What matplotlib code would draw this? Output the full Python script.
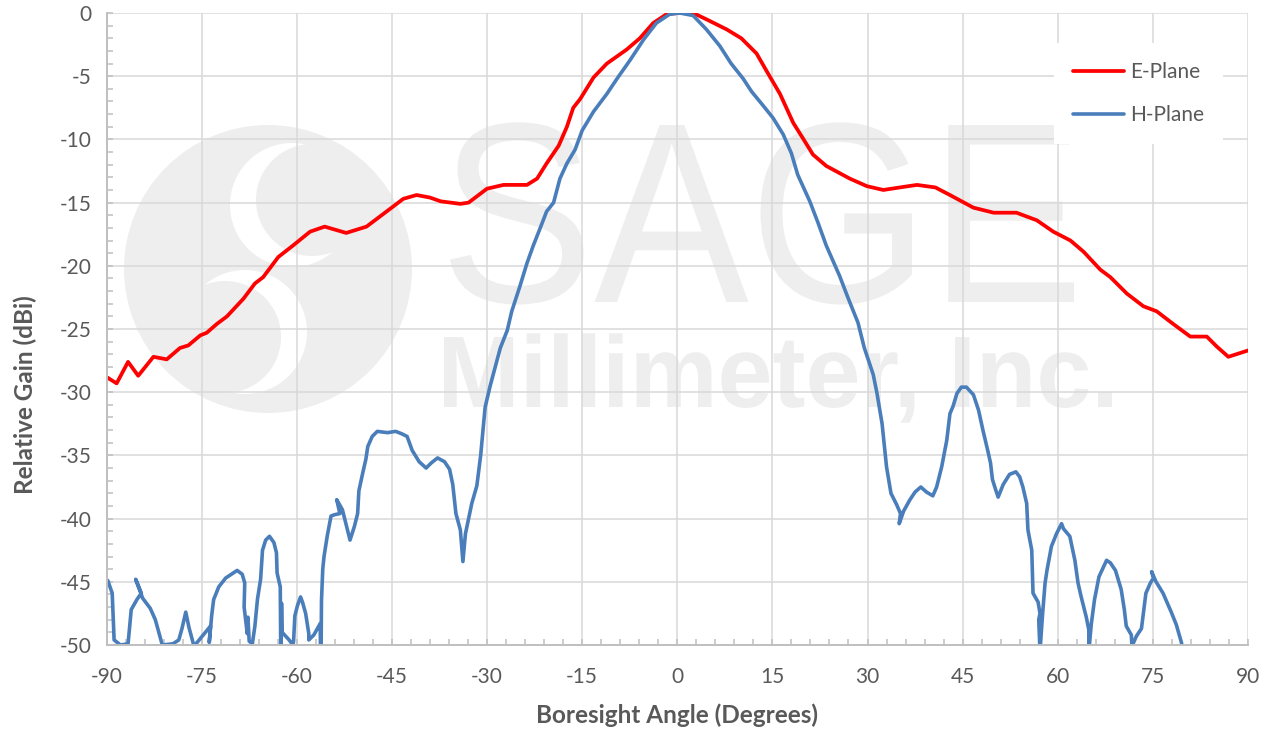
import matplotlib
matplotlib.use("Agg")
import matplotlib.pyplot as plt
from matplotlib.patches import PathPatch, Circle
from matplotlib.path import Path
from matplotlib.textpath import TextPath
from matplotlib.font_manager import FontProperties
from matplotlib.transforms import Affine2D
from matplotlib.ticker import MultipleLocator

# E-plane cut (degrees, dBi relative)
e_angle = [-90.0, -88.4, -86.6, -85.0, -82.6, -80.5, -78.4, -77.1, -75.2, -74.2,
           -72.6, -71.0, -68.4, -66.6, -65.3, -62.9, -60.6, -57.9, -55.6, -52.2,
           -49.0, -45.3, -43.2, -41.1, -39.0, -37.3, -34.2, -32.9, -30.0, -27.4,
           -23.7, -22.1, -20.6, -18.7, -17.4, -16.4, -15.3, -13.2, -11.1, -8.0,
           -5.9, -3.8, -1.7, 0.0, 2.5, 4.6, 7.8, 10.1, 12.5, 14.1,
           16.2, 18.3, 19.8, 21.4, 23.5, 27.2, 29.9, 32.5, 35.1, 37.8,
           40.7, 43.0, 46.7, 49.9, 53.5, 56.7, 59.3, 62.0, 64.1, 66.7,
           68.3, 70.9, 73.5, 75.6, 78.2, 80.9, 83.5, 85.1, 86.9, 90.0]
e_gain = [-28.8, -29.3, -27.6, -28.7, -27.2, -27.4, -26.5, -26.3, -25.5, -25.3,
          -24.6, -24.0, -22.6, -21.4, -20.9, -19.3, -18.4, -17.3, -16.9, -17.4,
          -16.9, -15.5, -14.7, -14.4, -14.6, -14.9, -15.1, -15.0, -13.9, -13.6,
          -13.6, -13.1, -11.9, -10.5, -9.0, -7.5, -6.8, -5.1, -4.0, -2.9,
          -2.0, -0.8, -0.1, 0.0, 0.0, -0.5, -1.3, -2.0, -3.2, -4.6,
          -6.4, -8.7, -9.9, -11.2, -12.1, -13.1, -13.7, -14.0, -13.8, -13.6,
          -13.8, -14.4, -15.4, -15.8, -15.8, -16.4, -17.3, -18.0, -18.9, -20.3,
          -20.9, -22.2, -23.2, -23.6, -24.6, -25.6, -25.6, -26.4, -27.2, -26.7]

# H-plane cut; the positioner angle wobbles a little, so angles are not strictly increasing
h_angle = [-89.8, -89.1, -88.8, -87.8, -86.6, -86.1, -85.2, -84.5, -85.4, -84.3,
           -83.1, -82.3, -81.2, -79.5, -78.6, -78.1, -77.5, -77.0, -76.2, -73.6,
           -73.8, -73.4, -73.1, -72.3, -71.2, -69.4, -68.6, -68.2, -68.3, -67.8,
           -67.7, -67.5, -67.0, -66.6, -66.2, -65.7, -65.4, -64.9, -64.3, -63.6,
           -63.2, -63.1, -62.6, -62.5, -62.4, -62.3, -61.2, -60.6, -60.5, -60.3,
           -59.9, -59.4, -59.1, -58.6, -58.1, -58.1, -57.3, -56.3, -56.2, -56.1,
           -55.9, -55.7, -55.2, -54.6, -54.1, -53.2, -53.7, -52.8, -51.6, -50.9,
           -50.4, -50.2, -49.6, -49.1, -48.8, -48.1, -47.3, -45.7, -44.4, -43.4,
           -42.6, -41.8, -40.7, -39.6, -38.8, -37.8, -36.7, -35.9, -35.4, -34.9,
           -34.2, -33.8, -33.4, -32.4, -31.6, -31.0, -30.3, -29.5, -28.7, -27.9,
           -26.8, -26.1, -24.8, -23.7, -22.7, -21.6, -20.6, -19.5, -18.5, -17.4,
           -16.1, -15.0, -13.2, -11.1, -9.5, -7.4, -5.3, -3.3, -1.2, 0.4,
           2.5, 4.6, 6.7, 8.5, 10.4, 11.7, 13.5, 15.1, 16.7, 18.0,
           19.0, 20.9, 22.2, 23.5, 25.6, 26.9, 28.5, 29.5, 30.9, 31.5,
           32.3, 32.7, 33.0, 33.7, 34.6, 35.2, 35.0, 35.7, 36.7, 37.5,
           38.4, 39.3, 40.3, 40.9, 41.7, 42.5, 43.0, 43.5, 44.1, 44.8,
           45.6, 46.7, 47.5, 48.2, 49.0, 49.4, 49.7, 50.2, 50.6, 51.4,
           52.4, 53.4, 54.0, 54.5, 55.1, 55.3, 55.9, 56.1, 56.9, 57.2,
           57.0, 57.2, 57.6, 58.0, 58.3, 59.0, 59.8, 60.6, 60.9, 61.9,
           62.7, 63.2, 63.7, 64.5, 64.9, 64.9, 65.3, 65.8, 66.5, 67.7,
           68.3, 69.1, 70.0, 70.5, 70.8, 71.6, 71.7, 72.4, 73.2, 73.4,
           73.9, 74.6, 75.1, 74.8, 75.5, 76.6, 77.9, 78.7, 79.5, 79.8]
h_gain = [-44.9, -45.9, -49.6, -50.0, -49.9, -47.2, -46.4, -45.9, -44.8, -46.3,
          -47.1, -48.0, -50.0, -49.9, -49.6, -48.7, -47.4, -48.6, -50.1, -48.5,
          -49.8, -47.6, -46.4, -45.4, -44.7, -44.1, -44.4, -45.1, -47.0, -49.1,
          -47.8, -49.7, -49.9, -48.5, -46.4, -44.8, -42.5, -41.7, -41.4, -41.9,
          -42.7, -44.3, -45.4, -52.0, -46.7, -49.0, -49.6, -50.0, -49.7, -47.7,
          -46.9, -46.2, -46.6, -47.5, -49.1, -49.6, -49.2, -48.3, -53.0, -46.5,
          -44.0, -43.0, -41.4, -39.8, -39.7, -39.6, -38.5, -39.3, -41.7, -40.6,
          -39.6, -37.8, -36.4, -35.3, -34.3, -33.5, -33.1, -33.2, -33.1, -33.3,
          -33.5, -34.6, -35.5, -36.0, -35.6, -35.2, -35.5, -36.1, -37.3, -39.6,
          -40.9, -43.4, -41.2, -38.8, -37.4, -35.0, -31.2, -29.5, -28.0, -26.5,
          -25.1, -23.6, -21.6, -19.8, -18.4, -17.0, -15.7, -15.0, -13.1, -11.9,
          -10.8, -9.3, -7.8, -6.4, -5.2, -3.7, -2.1, -0.8, -0.1, 0.0,
          -0.2, -1.3, -2.6, -4.0, -5.2, -6.2, -7.3, -8.3, -9.6, -11.1,
          -12.8, -14.9, -16.6, -18.4, -20.8, -22.5, -24.5, -26.5, -28.6, -30.1,
          -32.5, -34.4, -35.9, -38.0, -38.9, -39.6, -40.4, -39.4, -38.5, -37.9,
          -37.5, -37.9, -38.2, -37.5, -35.9, -33.8, -31.7, -31.1, -30.1, -29.6,
          -29.6, -30.2, -31.4, -33.0, -34.7, -35.6, -36.9, -37.7, -38.3, -37.3,
          -36.5, -36.3, -36.7, -37.5, -38.8, -40.9, -42.5, -45.9, -46.6, -47.5,
          -48.0, -50.5, -47.6, -45.1, -44.1, -42.2, -41.2, -40.4, -40.8, -41.4,
          -43.3, -45.1, -46.2, -47.8, -48.8, -50.5, -48.3, -46.4, -44.6, -43.3,
          -43.5, -44.1, -45.6, -47.2, -48.5, -49.2, -50.1, -49.3, -48.7, -47.9,
          -45.9, -45.1, -44.7, -44.2, -45.0, -45.9, -47.4, -48.4, -49.8, -50.5]

x_ticks = list(range(-90, 91, 15))
y_ticks = list(range(-50, 1, 5))

TEXT = "#595959"
GRID = "#D9D9D9"
AXIS = "#BFBFBF"
MARK = "#EEEEEE"

plt.rcParams["font.family"] = ["Lato", "DejaVu Sans"]
plt.rcParams["axes.unicode_minus"] = False

W, H = 1272, 729
fig = plt.figure(figsize=(W / 100, H / 100), dpi=100)
ax = fig.add_axes([106.5 / W, 1 - 645 / H, 1141.5 / W, 632 / H])

# pixel positions (y pointing down) -> figure
px = Affine2D().scale(1 / W, -1 / H).translate(0, 1) + fig.transFigure


def stamp(text, weight, x0, x1, top, base):
    prop = FontProperties(family="Liberation Sans", weight=weight)
    tp = TextPath((0, 0), text, size=1, prop=prop)
    cap = TextPath((0, 0), "H", size=1, prop=prop).get_extents().height
    ext = tp.get_extents()
    sx = (x1 - x0) / ext.width
    sy = (base - top) / cap
    v = tp.vertices.copy()
    v[:, 0] = x0 + (v[:, 0] - ext.x0) * sx
    v[:, 1] = base - v[:, 1] * sy
    ax.add_patch(PathPatch(Path(v, tp.codes), transform=px, fc=MARK, ec="none",
                           zorder=0.6, clip_on=False))


# company mark behind the data
for (cx, cy, r, c) in [(268, 269, 144, MARK), (292, 205, 62, "white"), (312, 200, 56, MARK),
                       (245, 332, 62, "white"), (225, 337, 56, MARK)]:
    ax.add_patch(Circle((cx, cy), r, transform=px, fc=c, ec="none", zorder=0.6, clip_on=False))
stamp("SAGE", "normal", 450, 1074, 125, 302)
stamp("Millimeter, Inc.", "bold", 444, 1112, 337, 407)

ax.plot(e_angle, e_gain, color="#FF0000", lw=2.7, label="E-Plane",
        solid_joinstyle="round", solid_capstyle="round")
ax.plot(h_angle, h_gain, color="#4A7EBB", lw=2.6, label="H-Plane",
        solid_joinstyle="round", solid_capstyle="round")

ax.set_xlim(-90, 90)
ax.set_ylim(-50, 0)
ax.set_xticks(x_ticks)
ax.set_yticks(y_ticks)
ax.xaxis.set_minor_locator(MultipleLocator(3))
ax.yaxis.set_minor_locator(MultipleLocator(1))
ax.grid(True, which="major", color=GRID, lw=1.1)

for s in ["top", "right"]:
    ax.spines[s].set_visible(False)
for s in ["left", "bottom"]:
    ax.spines[s].set_color(AXIS)
    ax.spines[s].set_linewidth(1.4)

ax.tick_params(which="both", direction="in", length=4, width=1.1, color=AXIS,
               labelcolor=TEXT, labelsize=15)
ax.tick_params(axis="y", pad=11)
ax.tick_params(axis="x", pad=16)

ax.set_xlabel("Boresight Angle (Degrees)", fontsize=17.5, fontweight="bold", color=TEXT, va="center")
ax.xaxis.set_label_coords(0.5, -0.111)
ax.set_ylabel("Relative Gain (dBi)", fontsize=17.5, fontweight="bold", color=TEXT, va="center")
ax.yaxis.set_label_coords(-0.0714, 0.396)

leg = ax.legend(loc="upper right", bbox_to_anchor=(0.978, 0.952), fontsize=15,
                frameon=True, fancybox=False, framealpha=1, edgecolor="none",
                facecolor="white", handlelength=2.45, handletextpad=0.3,
                labelspacing=1.1, borderpad=0.9, borderaxespad=0)
for t in leg.get_texts():
    t.set_color(TEXT)

fig.savefig("out.png", dpi=100)
